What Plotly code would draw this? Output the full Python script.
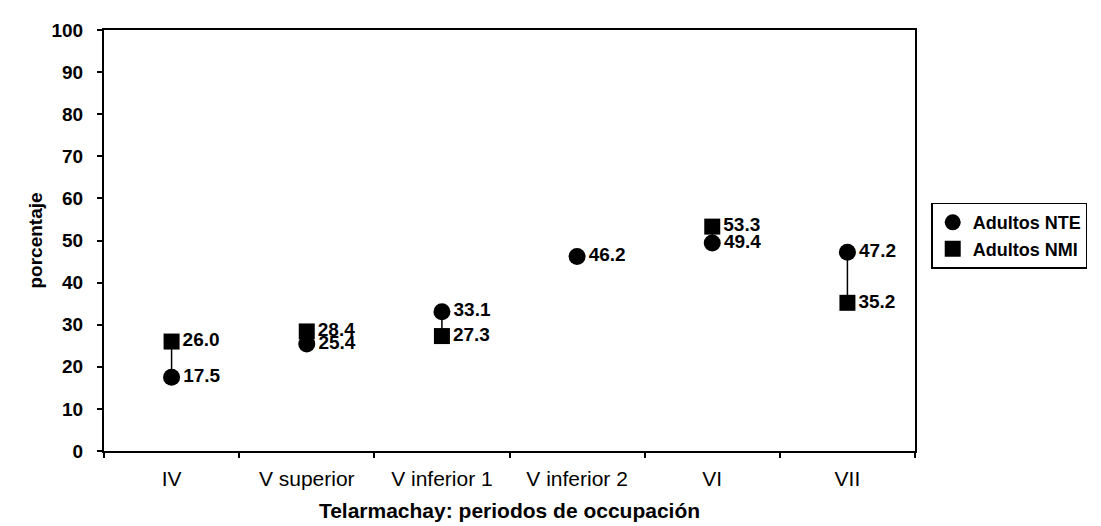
import plotly.graph_objects as go

categories = ["IV", "V superior", "V inferior 1", "V inferior 2", "VI", "VII"]
nte = [17.5, 25.4, 33.1, 46.2, 49.4, 47.2]
nmi = [26.0, 28.4, 27.3, None, 53.3, 35.2]
y_ticks = list(range(0, 101, 10))

font = "Liberation Sans, Arial, sans-serif"

# connector (high-low) lines between the two series
lx, ly = [], []
for c, a, b in zip(categories, nte, nmi):
    if a is not None and b is not None:
        lx += [c, c, None]
        ly += [a, b, None]

fig = go.Figure()
fig.add_trace(go.Scatter(x=lx, y=ly, mode="lines", line=dict(color="black", width=1.5),
                         showlegend=False, hoverinfo="skip"))
fig.add_trace(go.Scatter(
    x=categories, y=nmi, mode="markers+text", name="Adultos NMI",
    marker=dict(symbol="square", size=16, color="black"),
    text=[("%.1f" % v) if v is not None else "" for v in nmi],
    textposition="middle right",
    textfont=dict(family=font, size=19, color="black", weight="bold"),
    cliponaxis=False))
fig.add_trace(go.Scatter(
    x=categories, y=nte, mode="markers+text", name="Adultos NTE",
    marker=dict(symbol="circle", size=17, color="black"),
    text=["%.1f" % v for v in nte],
    textposition="middle right",
    textfont=dict(family=font, size=19, color="black", weight="bold"),
    cliponaxis=False))

fig.update_layout(
    width=1101, height=526,
    margin=dict(l=96, r=194, t=20, b=83),
    paper_bgcolor="white", plot_bgcolor="white",
    font=dict(family=font, color="black"),
    showlegend=True,
    legend=dict(x=1.02, y=0.59, xanchor="left", yanchor="top",
                bordercolor="black", borderwidth=1.5, traceorder="reversed",
                font=dict(family=font, size=18, color="black", weight="bold"),
                itemwidth=30, tracegroupgap=0),
    xaxis=dict(type="category", categoryorder="array", categoryarray=categories,
               range=[-0.5, 5.5], showline=True, mirror=True, linecolor="black", linewidth=2,
               ticks="outside", ticklen=5, tickcolor="black", tickwidth=1.5,
               showgrid=False, zeroline=False, tickson="boundaries",
               tickfont=dict(family=font, size=21),
               ticklabelstandoff=8,
               title=dict(text="Telarmachay: periodos de occupación",
                          font=dict(family=font, size=21, weight="bold"), standoff=14)),
    yaxis=dict(range=[0, 100], tickvals=y_ticks, showline=True, mirror=True,
               linecolor="black", linewidth=2, ticks="outside", ticklen=5,
               tickcolor="black", tickwidth=1.5, showgrid=False, zeroline=False,
               tickfont=dict(family=font, size=19, weight="bold"),
               ticklabelstandoff=10,
               title=dict(text="porcentaje", font=dict(family=font, size=19, weight="bold"),
                          standoff=4)),
)

fig.write_html("out.html")
